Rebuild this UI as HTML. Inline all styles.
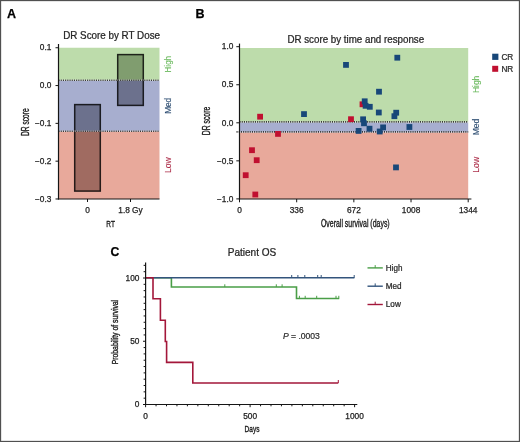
<!DOCTYPE html>
<html><head><meta charset="utf-8"><style>
html,body{margin:0;padding:0;background:#fff;}
body{width:520px;height:442px;overflow:hidden;position:relative;font-family:'Liberation Sans', sans-serif;}
svg{will-change:transform;}

</style></head><body>
<svg width="520" height="442" viewBox="0 0 520 442" style="position:absolute;left:0;top:0;font-family:'Liberation Sans', sans-serif">
<rect x="0" y="0" width="520" height="442" fill="#ffffff"/>
<text transform="translate(7,18) scale(1.0000,1)" x="0" y="0" font-size="12.5" text-anchor="start" fill="#000" font-weight="bold" stroke="#000" stroke-width="0.25" >A</text>
<text transform="translate(195.5,17.6) scale(1.0000,1)" x="0" y="0" font-size="12.5" text-anchor="start" fill="#000" font-weight="bold" stroke="#000" stroke-width="0.25" >B</text>
<text transform="translate(110.5,255.7) scale(1.0000,1)" x="0" y="0" font-size="12.2" text-anchor="start" fill="#000" font-weight="bold" stroke="#000" stroke-width="0.25" >C</text>
<rect x="58.5" y="47.74" width="101.0" height="32.76" fill="#bddcab"/>
<rect x="58.5" y="80.5" width="101.0" height="51.0" fill="#a7aecf"/>
<rect x="58.5" y="131.5" width="101.0" height="67.5" fill="#e8a99b"/>
<rect x="74.7" y="104.60" width="25.6" height="26.90" fill="#6c718d"/>
<rect x="74.7" y="131.50" width="25.6" height="59.60" fill="#a06b61"/>
<rect x="74.7" y="104.6" width="25.6" height="86.5" fill="none" stroke="#000" stroke-opacity="0.82" stroke-width="1.5"/>
<rect x="117.7" y="54.60" width="25.6" height="25.90" fill="#809d6f"/>
<rect x="117.7" y="80.50" width="25.6" height="24.90" fill="#6c718d"/>
<rect x="117.7" y="54.6" width="25.6" height="50.800000000000004" fill="none" stroke="#000" stroke-opacity="0.82" stroke-width="1.5"/>
<line x1="58.5" y1="80.2" x2="159.5" y2="80.2" stroke="#ffffff" stroke-width="1.8" stroke-opacity="0.3"/>
<line x1="58.5" y1="80.2" x2="159.5" y2="80.2" stroke="#383838" stroke-width="1.6" stroke-dasharray="1.1,1.1"/>
<line x1="58.5" y1="131.2" x2="159.5" y2="131.2" stroke="#ffffff" stroke-width="1.8" stroke-opacity="0.3"/>
<line x1="58.5" y1="131.2" x2="159.5" y2="131.2" stroke="#383838" stroke-width="1.6" stroke-dasharray="1.1,1.1"/>
<line x1="58.5" y1="44" x2="58.5" y2="199.5" stroke="#151515" stroke-width="1.2" />
<line x1="57.9" y1="199.0" x2="159.5" y2="199.0" stroke="#151515" stroke-width="1.2" />
<line x1="55.5" y1="47.74" x2="58.5" y2="47.74" stroke="#151515" stroke-width="1" />
<text transform="translate(51.4,50.44) scale(1.0000,1)" x="0" y="0" font-size="8.3" text-anchor="end" fill="#222222" font-weight="normal" stroke="#222222" stroke-width="0.25" >0.1</text>
<line x1="55.5" y1="85.55" x2="58.5" y2="85.55" stroke="#151515" stroke-width="1" />
<text transform="translate(51.4,88.25) scale(1.0000,1)" x="0" y="0" font-size="8.3" text-anchor="end" fill="#222222" font-weight="normal" stroke="#222222" stroke-width="0.25" >0.0</text>
<line x1="55.5" y1="123.36" x2="58.5" y2="123.36" stroke="#151515" stroke-width="1" />
<text transform="translate(51.4,126.06) scale(1.0000,1)" x="0" y="0" font-size="8.3" text-anchor="end" fill="#222222" font-weight="normal" stroke="#222222" stroke-width="0.25" >−0.1</text>
<line x1="55.5" y1="161.17" x2="58.5" y2="161.17" stroke="#151515" stroke-width="1" />
<text transform="translate(51.4,163.87) scale(1.0000,1)" x="0" y="0" font-size="8.3" text-anchor="end" fill="#222222" font-weight="normal" stroke="#222222" stroke-width="0.25" >−0.2</text>
<line x1="55.5" y1="198.98" x2="58.5" y2="198.98" stroke="#151515" stroke-width="1" />
<text transform="translate(51.4,201.68) scale(1.0000,1)" x="0" y="0" font-size="8.3" text-anchor="end" fill="#222222" font-weight="normal" stroke="#222222" stroke-width="0.25" >−0.3</text>
<line x1="87.5" y1="199.0" x2="87.5" y2="202" stroke="#151515" stroke-width="1" />
<text transform="translate(87.5,212.8) scale(1.0000,1)" x="0" y="0" font-size="8.3" text-anchor="middle" fill="#222222" font-weight="normal" stroke="#222222" stroke-width="0.25" >0</text>
<line x1="130.5" y1="199.0" x2="130.5" y2="202" stroke="#151515" stroke-width="1" />
<text transform="translate(130.5,212.8) scale(1.0000,1)" x="0" y="0" font-size="8.3" text-anchor="middle" fill="#222222" font-weight="normal" stroke="#222222" stroke-width="0.25" >1.8 Gy</text>
<text transform="translate(110.6,226.5) scale(0.6672,1)" x="0" y="0" font-size="9.8" text-anchor="middle" fill="#1a1a1a" font-weight="normal" stroke="#1a1a1a" stroke-width="0.35" >RT</text>
<text transform="translate(28.5,122.2) rotate(-90) scale(0.6621,1)" x="0" y="0" font-size="10" text-anchor="middle" fill="#1a1a1a" font-weight="normal" stroke="#1a1a1a" stroke-width="0.35">DR score</text>
<text transform="translate(111.6,38.6) scale(0.9841,1)" x="0" y="0" font-size="10" text-anchor="middle" fill="#262626" font-weight="normal" stroke="#262626" stroke-width="0.25" >DR Score by RT Dose</text>
<text transform="translate(171.2,64.2) rotate(-90) scale(0.9737,1)" x="0" y="0" font-size="8.2" text-anchor="middle" fill="#6cba5f" font-weight="normal" stroke="#6cba5f" stroke-width="0.12">High</text>
<text transform="translate(171.4,105.8) rotate(-90) scale(1.0039,1)" x="0" y="0" font-size="8.2" text-anchor="middle" fill="#2a4b70" font-weight="normal" stroke="#2a4b70" stroke-width="0.12">Med</text>
<text transform="translate(171.4,165.2) rotate(-90) scale(1.0378,1)" x="0" y="0" font-size="8.2" text-anchor="middle" fill="#ad2f4a" font-weight="normal" stroke="#ad2f4a" stroke-width="0.12">Low</text>
<rect x="239.5" y="48" width="228.7" height="74.5" fill="#bddcab"/>
<rect x="239.5" y="122.5" width="228.7" height="10.0" fill="#a7aecf"/>
<rect x="239.5" y="132.5" width="228.7" height="66.5" fill="#e8a99b"/>
<line x1="239.5" y1="121.9" x2="468.2" y2="121.9" stroke="#ffffff" stroke-width="1.8" stroke-opacity="0.3"/>
<line x1="239.5" y1="121.9" x2="468.2" y2="121.9" stroke="#383838" stroke-width="1.6" stroke-dasharray="1.1,1.1"/>
<line x1="236.5" y1="131.9" x2="468.2" y2="131.9" stroke="#ffffff" stroke-width="1.8" stroke-opacity="0.3"/>
<line x1="236.5" y1="131.9" x2="468.2" y2="131.9" stroke="#383838" stroke-width="1.6" stroke-dasharray="1.1,1.1"/>
<rect x="257.20" y="113.80" width="5.8" height="5.8" fill="#c01030"/>
<rect x="275.10" y="131.00" width="5.8" height="5.8" fill="#c01030"/>
<rect x="249.10" y="147.30" width="5.8" height="5.8" fill="#c01030"/>
<rect x="253.80" y="157.30" width="5.8" height="5.8" fill="#c01030"/>
<rect x="242.80" y="172.30" width="5.8" height="5.8" fill="#c01030"/>
<rect x="252.40" y="191.60" width="5.8" height="5.8" fill="#c01030"/>
<rect x="359.60" y="101.40" width="5.8" height="5.8" fill="#c01030"/>
<rect x="348.10" y="116.30" width="5.8" height="5.8" fill="#c01030"/>
<rect x="301.10" y="111.20" width="5.8" height="5.8" fill="#184779"/>
<rect x="343.10" y="62.00" width="5.8" height="5.8" fill="#184779"/>
<rect x="394.40" y="54.80" width="5.8" height="5.8" fill="#184779"/>
<rect x="376.10" y="88.80" width="5.8" height="5.8" fill="#184779"/>
<rect x="375.90" y="109.60" width="5.8" height="5.8" fill="#184779"/>
<rect x="393.30" y="109.80" width="5.8" height="5.8" fill="#184779"/>
<rect x="391.50" y="113.30" width="5.8" height="5.8" fill="#184779"/>
<rect x="380.20" y="124.50" width="5.8" height="5.8" fill="#184779"/>
<rect x="376.80" y="128.60" width="5.8" height="5.8" fill="#184779"/>
<rect x="406.50" y="124.10" width="5.8" height="5.8" fill="#184779"/>
<rect x="393.10" y="164.50" width="5.8" height="5.8" fill="#184779"/>
<rect x="361.80" y="98.40" width="5.8" height="5.8" fill="#184779"/>
<rect x="362.70" y="102.90" width="5.8" height="5.8" fill="#184779"/>
<rect x="366.90" y="103.90" width="5.8" height="5.8" fill="#184779"/>
<rect x="360.20" y="116.40" width="5.8" height="5.8" fill="#184779"/>
<rect x="361.10" y="120.40" width="5.8" height="5.8" fill="#184779"/>
<rect x="355.70" y="128.00" width="5.8" height="5.8" fill="#184779"/>
<rect x="366.60" y="125.80" width="5.8" height="5.8" fill="#184779"/>
<line x1="239.5" y1="43.6" x2="239.5" y2="199.5" stroke="#151515" stroke-width="1.2" />
<line x1="238.9" y1="199" x2="471.4" y2="199" stroke="#151515" stroke-width="1.2" />
<line x1="236.3" y1="46.70" x2="239.5" y2="46.70" stroke="#151515" stroke-width="1" />
<text transform="translate(233.4,49.40) scale(1.0000,1)" x="0" y="0" font-size="8.3" text-anchor="end" fill="#222222" font-weight="normal" stroke="#222222" stroke-width="0.25" >1.0</text>
<line x1="236.3" y1="84.75" x2="239.5" y2="84.75" stroke="#151515" stroke-width="1" />
<text transform="translate(233.4,87.45) scale(1.0000,1)" x="0" y="0" font-size="8.3" text-anchor="end" fill="#222222" font-weight="normal" stroke="#222222" stroke-width="0.25" >0.5</text>
<line x1="236.3" y1="122.80" x2="239.5" y2="122.80" stroke="#151515" stroke-width="1" />
<text transform="translate(233.4,125.50) scale(1.0000,1)" x="0" y="0" font-size="8.3" text-anchor="end" fill="#222222" font-weight="normal" stroke="#222222" stroke-width="0.25" >0.0</text>
<line x1="236.3" y1="160.85" x2="239.5" y2="160.85" stroke="#151515" stroke-width="1" />
<text transform="translate(233.4,163.55) scale(1.0000,1)" x="0" y="0" font-size="8.3" text-anchor="end" fill="#222222" font-weight="normal" stroke="#222222" stroke-width="0.25" >−0.5</text>
<line x1="236.3" y1="198.90" x2="239.5" y2="198.90" stroke="#151515" stroke-width="1" />
<text transform="translate(233.4,201.60) scale(1.0000,1)" x="0" y="0" font-size="8.3" text-anchor="end" fill="#222222" font-weight="normal" stroke="#222222" stroke-width="0.25" >−1.0</text>
<line x1="239.50" y1="199" x2="239.50" y2="202.3" stroke="#151515" stroke-width="1" />
<text transform="translate(239.50,212.8) scale(1.0000,1)" x="0" y="0" font-size="8.3" text-anchor="middle" fill="#222222" font-weight="normal" stroke="#222222" stroke-width="0.25" >0</text>
<line x1="296.68" y1="199" x2="296.68" y2="202.3" stroke="#151515" stroke-width="1" />
<text transform="translate(296.68,212.8) scale(1.0000,1)" x="0" y="0" font-size="8.3" text-anchor="middle" fill="#222222" font-weight="normal" stroke="#222222" stroke-width="0.25" >336</text>
<line x1="353.85" y1="199" x2="353.85" y2="202.3" stroke="#151515" stroke-width="1" />
<text transform="translate(353.85,212.8) scale(1.0000,1)" x="0" y="0" font-size="8.3" text-anchor="middle" fill="#222222" font-weight="normal" stroke="#222222" stroke-width="0.25" >672</text>
<line x1="411.02" y1="199" x2="411.02" y2="202.3" stroke="#151515" stroke-width="1" />
<text transform="translate(411.02,212.8) scale(1.0000,1)" x="0" y="0" font-size="8.3" text-anchor="middle" fill="#222222" font-weight="normal" stroke="#222222" stroke-width="0.25" >1008</text>
<line x1="468.20" y1="199" x2="468.20" y2="202.3" stroke="#151515" stroke-width="1" />
<text transform="translate(468.20,212.8) scale(1.0000,1)" x="0" y="0" font-size="8.3" text-anchor="middle" fill="#222222" font-weight="normal" stroke="#222222" stroke-width="0.25" >1344</text>
<text transform="translate(355.3,227) scale(0.6955,1)" x="0" y="0" font-size="10" text-anchor="middle" fill="#1a1a1a" font-weight="normal" stroke="#1a1a1a" stroke-width="0.35" >Overall survival (days)</text>
<text transform="translate(210.2,121) rotate(-90) scale(0.6813,1)" x="0" y="0" font-size="10" text-anchor="middle" fill="#1a1a1a" font-weight="normal" stroke="#1a1a1a" stroke-width="0.35">DR score</text>
<text transform="translate(355.8,42.6) scale(0.9780,1)" x="0" y="0" font-size="10" text-anchor="middle" fill="#262626" font-weight="normal" stroke="#262626" stroke-width="0.25" >DR score by time and response</text>
<text transform="translate(479.4,84.4) rotate(-90) scale(1.0330,1)" x="0" y="0" font-size="8.2" text-anchor="middle" fill="#6cba5f" font-weight="normal" stroke="#6cba5f" stroke-width="0.12">High</text>
<text transform="translate(479.4,127) rotate(-90) scale(1.0416,1)" x="0" y="0" font-size="8.2" text-anchor="middle" fill="#2a4b70" font-weight="normal" stroke="#2a4b70" stroke-width="0.12">Med</text>
<text transform="translate(479.4,164.8) rotate(-90) scale(1.0511,1)" x="0" y="0" font-size="8.2" text-anchor="middle" fill="#ad2f4a" font-weight="normal" stroke="#ad2f4a" stroke-width="0.12">Low</text>
<rect x="492.2" y="53.7" width="6.2" height="6.2" fill="#184779"/>
<rect x="492.2" y="65.8" width="6" height="6" fill="#c01030"/>
<text transform="translate(501.4,59.6) scale(0.9745,1)" x="0" y="0" font-size="8.4" text-anchor="start" fill="#2a2a2a" font-weight="normal" stroke="#2a2a2a" stroke-width="0.25" >CR</text>
<text transform="translate(501.4,72) scale(0.9745,1)" x="0" y="0" font-size="8.4" text-anchor="start" fill="#2a2a2a" font-weight="normal" stroke="#2a2a2a" stroke-width="0.25" >NR</text>
<text transform="translate(252,256.3) scale(0.9862,1)" x="0" y="0" font-size="10.2" text-anchor="middle" fill="#262626" font-weight="normal" stroke="#262626" stroke-width="0.25" >Patient OS</text>
<polyline points="145.60,277.80 171.40,277.80 171.40,287.00 296.50,287.00 296.50,298.50 339.20,298.50" fill="none" stroke="#4a9e47" stroke-width="1.6" stroke-linejoin="miter"/>
<line x1="224.8" y1="287" x2="224.8" y2="284.3" stroke="#4a9e47" stroke-width="1" />
<line x1="276.3" y1="287" x2="276.3" y2="284.3" stroke="#4a9e47" stroke-width="1" />
<line x1="282.1" y1="287" x2="282.1" y2="284.3" stroke="#4a9e47" stroke-width="1" />
<line x1="299.4" y1="298.5" x2="299.4" y2="295.8" stroke="#4a9e47" stroke-width="1" />
<line x1="305.2" y1="298.5" x2="305.2" y2="295.8" stroke="#4a9e47" stroke-width="1" />
<line x1="316.7" y1="298.5" x2="316.7" y2="295.8" stroke="#4a9e47" stroke-width="1" />
<line x1="336" y1="298.5" x2="336" y2="295.8" stroke="#4a9e47" stroke-width="1" />
<line x1="338.8" y1="298.5" x2="338.8" y2="295.8" stroke="#4a9e47" stroke-width="1" />
<polyline points="145.60,277.80 354.40,277.80" fill="none" stroke="#33547c" stroke-width="1.6" stroke-linejoin="miter"/>
<line x1="291.7" y1="277.8" x2="291.7" y2="275" stroke="#33547c" stroke-width="1" />
<line x1="297.9" y1="277.8" x2="297.9" y2="275" stroke="#33547c" stroke-width="1" />
<line x1="304.8" y1="277.8" x2="304.8" y2="275" stroke="#33547c" stroke-width="1" />
<line x1="317.7" y1="277.8" x2="317.7" y2="275" stroke="#33547c" stroke-width="1" />
<line x1="321.2" y1="277.8" x2="321.2" y2="275" stroke="#33547c" stroke-width="1" />
<line x1="354.2" y1="277.8" x2="354.2" y2="275" stroke="#33547c" stroke-width="1" />
<polyline points="145.60,277.80 153.00,277.80 153.00,298.70 160.40,298.70 160.40,320.30 165.30,320.30 165.30,341.50 166.60,341.50 166.60,362.40 192.80,362.40 192.80,383.00 338.30,383.00" fill="none" stroke="#a3173a" stroke-width="1.6" stroke-linejoin="miter"/>
<line x1="338.3" y1="383" x2="338.3" y2="380" stroke="#a3173a" stroke-width="1" />
<line x1="145.6" y1="262.4" x2="145.6" y2="405" stroke="#151515" stroke-width="1.2" />
<line x1="145.0" y1="404.5" x2="357.3" y2="404.5" stroke="#151515" stroke-width="1.2" />
<line x1="143.0" y1="404.50" x2="145.6" y2="404.50" stroke="#151515" stroke-width="1" />
<line x1="143.6" y1="398.18" x2="145.6" y2="398.18" stroke="#151515" stroke-width="1" />
<line x1="143.6" y1="391.85" x2="145.6" y2="391.85" stroke="#151515" stroke-width="1" />
<line x1="143.6" y1="385.52" x2="145.6" y2="385.52" stroke="#151515" stroke-width="1" />
<line x1="143.6" y1="379.20" x2="145.6" y2="379.20" stroke="#151515" stroke-width="1" />
<line x1="143.6" y1="372.88" x2="145.6" y2="372.88" stroke="#151515" stroke-width="1" />
<line x1="143.6" y1="366.55" x2="145.6" y2="366.55" stroke="#151515" stroke-width="1" />
<line x1="143.6" y1="360.23" x2="145.6" y2="360.23" stroke="#151515" stroke-width="1" />
<line x1="143.6" y1="353.90" x2="145.6" y2="353.90" stroke="#151515" stroke-width="1" />
<line x1="143.6" y1="347.57" x2="145.6" y2="347.57" stroke="#151515" stroke-width="1" />
<line x1="143.0" y1="341.25" x2="145.6" y2="341.25" stroke="#151515" stroke-width="1" />
<line x1="143.6" y1="334.93" x2="145.6" y2="334.93" stroke="#151515" stroke-width="1" />
<line x1="143.6" y1="328.60" x2="145.6" y2="328.60" stroke="#151515" stroke-width="1" />
<line x1="143.6" y1="322.27" x2="145.6" y2="322.27" stroke="#151515" stroke-width="1" />
<line x1="143.6" y1="315.95" x2="145.6" y2="315.95" stroke="#151515" stroke-width="1" />
<line x1="143.6" y1="309.62" x2="145.6" y2="309.62" stroke="#151515" stroke-width="1" />
<line x1="143.6" y1="303.30" x2="145.6" y2="303.30" stroke="#151515" stroke-width="1" />
<line x1="143.6" y1="296.98" x2="145.6" y2="296.98" stroke="#151515" stroke-width="1" />
<line x1="143.6" y1="290.65" x2="145.6" y2="290.65" stroke="#151515" stroke-width="1" />
<line x1="143.6" y1="284.32" x2="145.6" y2="284.32" stroke="#151515" stroke-width="1" />
<line x1="143.0" y1="278.00" x2="145.6" y2="278.00" stroke="#151515" stroke-width="1" />
<line x1="143.6" y1="271.68" x2="145.6" y2="271.68" stroke="#151515" stroke-width="1" />
<line x1="143.6" y1="265.35" x2="145.6" y2="265.35" stroke="#151515" stroke-width="1" />
<text transform="translate(139.4,407.20) scale(1.0000,1)" x="0" y="0" font-size="8.3" text-anchor="end" fill="#222222" font-weight="normal" stroke="#222222" stroke-width="0.25" >0</text>
<text transform="translate(139.4,343.95) scale(1.0000,1)" x="0" y="0" font-size="8.3" text-anchor="end" fill="#222222" font-weight="normal" stroke="#222222" stroke-width="0.25" >50</text>
<text transform="translate(139.4,280.70) scale(1.0000,1)" x="0" y="0" font-size="8.3" text-anchor="end" fill="#222222" font-weight="normal" stroke="#222222" stroke-width="0.25" >100</text>
<line x1="145.60" y1="404.5" x2="145.60" y2="407.2" stroke="#151515" stroke-width="1" />
<line x1="156.05" y1="404.5" x2="156.05" y2="406.3" stroke="#151515" stroke-width="1" />
<line x1="166.50" y1="404.5" x2="166.50" y2="406.3" stroke="#151515" stroke-width="1" />
<line x1="176.95" y1="404.5" x2="176.95" y2="406.3" stroke="#151515" stroke-width="1" />
<line x1="187.40" y1="404.5" x2="187.40" y2="406.3" stroke="#151515" stroke-width="1" />
<line x1="197.85" y1="404.5" x2="197.85" y2="406.3" stroke="#151515" stroke-width="1" />
<line x1="208.30" y1="404.5" x2="208.30" y2="406.3" stroke="#151515" stroke-width="1" />
<line x1="218.75" y1="404.5" x2="218.75" y2="406.3" stroke="#151515" stroke-width="1" />
<line x1="229.20" y1="404.5" x2="229.20" y2="406.3" stroke="#151515" stroke-width="1" />
<line x1="239.65" y1="404.5" x2="239.65" y2="406.3" stroke="#151515" stroke-width="1" />
<line x1="250.10" y1="404.5" x2="250.10" y2="407.2" stroke="#151515" stroke-width="1" />
<line x1="260.55" y1="404.5" x2="260.55" y2="406.3" stroke="#151515" stroke-width="1" />
<line x1="271.00" y1="404.5" x2="271.00" y2="406.3" stroke="#151515" stroke-width="1" />
<line x1="281.45" y1="404.5" x2="281.45" y2="406.3" stroke="#151515" stroke-width="1" />
<line x1="291.90" y1="404.5" x2="291.90" y2="406.3" stroke="#151515" stroke-width="1" />
<line x1="302.35" y1="404.5" x2="302.35" y2="406.3" stroke="#151515" stroke-width="1" />
<line x1="312.80" y1="404.5" x2="312.80" y2="406.3" stroke="#151515" stroke-width="1" />
<line x1="323.25" y1="404.5" x2="323.25" y2="406.3" stroke="#151515" stroke-width="1" />
<line x1="333.70" y1="404.5" x2="333.70" y2="406.3" stroke="#151515" stroke-width="1" />
<line x1="344.15" y1="404.5" x2="344.15" y2="406.3" stroke="#151515" stroke-width="1" />
<line x1="354.60" y1="404.5" x2="354.60" y2="407.2" stroke="#151515" stroke-width="1" />
<text transform="translate(145.60,418.5) scale(1.0000,1)" x="0" y="0" font-size="8.3" text-anchor="middle" fill="#222222" font-weight="normal" stroke="#222222" stroke-width="0.25" >0</text>
<text transform="translate(250.10,418.5) scale(1.0000,1)" x="0" y="0" font-size="8.3" text-anchor="middle" fill="#222222" font-weight="normal" stroke="#222222" stroke-width="0.25" >500</text>
<text transform="translate(354.60,418.5) scale(1.0000,1)" x="0" y="0" font-size="8.3" text-anchor="middle" fill="#222222" font-weight="normal" stroke="#222222" stroke-width="0.25" >1000</text>
<text transform="translate(252,431.8) scale(0.6718,1)" x="0" y="0" font-size="9.8" text-anchor="middle" fill="#1a1a1a" font-weight="normal" stroke="#1a1a1a" stroke-width="0.35" >Days</text>
<text transform="translate(118.2,332.1) rotate(-90) scale(0.7270,1)" x="0" y="0" font-size="9.4" text-anchor="middle" fill="#1a1a1a" font-weight="normal" stroke="#1a1a1a" stroke-width="0.35">Probability of survival</text>
<line x1="367.5" y1="267.9" x2="382.8" y2="267.9" stroke="#4a9e47" stroke-width="1.4" />
<line x1="375.2" y1="267.9" x2="375.2" y2="265.09999999999997" stroke="#4a9e47" stroke-width="1" />
<text transform="translate(385.8,270.80) scale(0.9855,1)" x="0" y="0" font-size="8.2" text-anchor="start" fill="#2a2a2a" font-weight="normal" stroke="#2a2a2a" stroke-width="0.25" >High</text>
<line x1="367.5" y1="286.2" x2="382.8" y2="286.2" stroke="#33547c" stroke-width="1.4" />
<line x1="375.2" y1="286.2" x2="375.2" y2="283.4" stroke="#33547c" stroke-width="1" />
<text transform="translate(385.8,289.10) scale(0.9914,1)" x="0" y="0" font-size="8.2" text-anchor="start" fill="#2a2a2a" font-weight="normal" stroke="#2a2a2a" stroke-width="0.25" >Med</text>
<line x1="367.5" y1="304.5" x2="382.8" y2="304.5" stroke="#a3173a" stroke-width="1.4" />
<line x1="375.2" y1="304.5" x2="375.2" y2="301.7" stroke="#a3173a" stroke-width="1" />
<text transform="translate(385.8,307.40) scale(0.9979,1)" x="0" y="0" font-size="8.2" text-anchor="start" fill="#2a2a2a" font-weight="normal" stroke="#2a2a2a" stroke-width="0.25" >Low</text>
<text x="282.9" y="338.6" font-size="8.2" fill="#2a2a2a" stroke="#2a2a2a" stroke-width="0.2" textLength="37" lengthAdjust="spacingAndGlyphs"><tspan font-style="italic">P</tspan> = .0003</text>
<rect x="0.5" y="0.5" width="519" height="441" fill="none" stroke="#505050" stroke-width="1.3"/>
</svg>
</body></html>
